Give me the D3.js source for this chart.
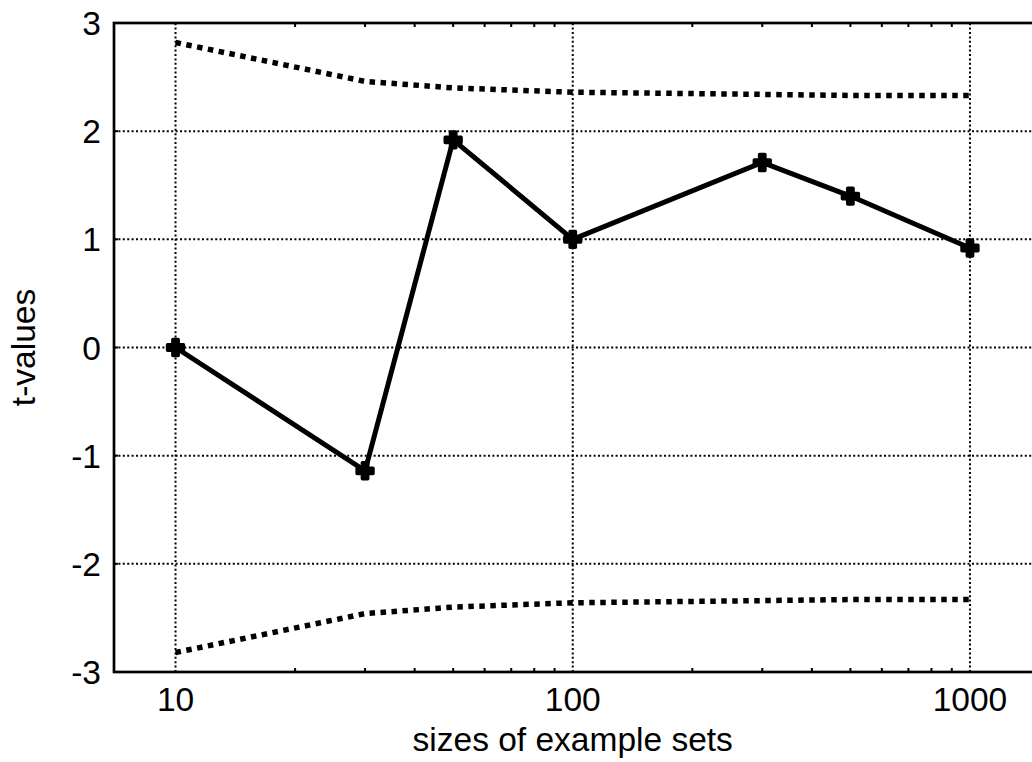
<!DOCTYPE html>
<head>
  <title>t-values by size of example sets</title>
  <style>
    body { margin: 0; background: #fff; }
    text { font-family: "Liberation Sans", Arial, Helvetica, sans-serif; font-size: 33.5px; fill: #000; }
  </style>
</head>
<body>
  <script src="https://cdn.jsdelivr.net/npm/d3@7"></script>
  <script>
    // data
    var sizes = [10, 30, 50, 100, 300, 500, 1000];
    var tValues = [0.0, -1.14, 1.92, 1.0, 1.71, 1.40, 0.92];
    var upperBound = [2.82, 2.46, 2.40, 2.36, 2.34, 2.33, 2.33];
    var lowerBound = [-2.82, -2.46, -2.40, -2.36, -2.34, -2.33, -2.33];
    var yTicks = [-3, -2, -1, 0, 1, 2, 3];
    var xTicks = [10, 100, 1000];

    var margin = {top: 23, left: 114},
        width = 1032,
        height = 762;

    var x = d3.scaleLog()
              .domain([7, 1500])
              .range([margin.left, 176 + 397 * Math.log10(150)]);
    var y = d3.scaleLinear()
              .domain([-3, 3])
              .range([672, margin.top]);

    var svg = d3.select("body").append("svg")
        .attr("width", width)
        .attr("height", height);

    var x0 = x.range()[0], x1 = x.range()[1];

    // grid lines
    svg.append("g").selectAll("line")
        .data(yTicks.filter(function(d) { return d > -3 && d < 3; }))
      .enter().append("line")
        .attr("x1", x0).attr("x2", x1)
        .attr("y1", function(d) { return y(d); })
        .attr("y2", function(d) { return y(d); })
        .attr("stroke", "#000")
        .attr("stroke-width", 2)
        .attr("stroke-dasharray", "2,2.4");

    svg.append("g").selectAll("line")
        .data(xTicks)
      .enter().append("line")
        .attr("x1", function(d) { return x(d); })
        .attr("x2", function(d) { return x(d); })
        .attr("y1", y(-3)).attr("y2", y(3))
        .attr("stroke", "#000")
        .attr("stroke-width", 2)
        .attr("stroke-dasharray", "2,2.4");

    // minor ticks on log axis, top and bottom
    var minor = [];
    [10, 100].forEach(function(dec) {
      for (var k = 2; k <= 9; k++) minor.push(dec * k);
    });
    minor = minor.filter(function(d) { return d > 7 && d < 1500; });
    [y(-3), y(3)].forEach(function(yy, i) {
      svg.append("g").selectAll("line")
          .data(minor)
        .enter().append("line")
          .attr("x1", function(d) { return x(d); })
          .attr("x2", function(d) { return x(d); })
          .attr("y1", yy)
          .attr("y2", i === 0 ? yy - 4 : yy + 4)
          .attr("stroke", "#000")
          .attr("stroke-width", 2);
    });

    // small y ticks on the left
    svg.append("g").selectAll("line")
        .data(yTicks)
      .enter().append("line")
        .attr("x1", x0).attr("x2", x0 + 4)
        .attr("y1", function(d) { return y(d); })
        .attr("y2", function(d) { return y(d); })
        .attr("stroke", "#000")
        .attr("stroke-width", 2);

    // frame
    svg.append("rect")
        .attr("x", x0).attr("y", y(3))
        .attr("width", x1 - x0).attr("height", y(-3) - y(3))
        .attr("fill", "none")
        .attr("stroke", "#000")
        .attr("stroke-width", 2.7);

    // tick labels
    svg.append("g").selectAll("text")
        .data(yTicks)
      .enter().append("text")
        .attr("x", 101)
        .attr("y", function(d) { return y(d) + 12; })
        .attr("text-anchor", "end")
        .text(function(d) { return d; });

    svg.append("g").selectAll("text")
        .data(xTicks)
      .enter().append("text")
        .attr("x", function(d) { return x(d); })
        .attr("y", 711)
        .attr("text-anchor", "middle")
        .text(function(d) { return d; });

    // axis titles
    svg.append("text")
        .attr("x", x(100))
        .attr("y", 751)
        .attr("text-anchor", "middle")
        .text("sizes of example sets");

    svg.append("text")
        .attr("transform", "translate(35," + y(0) + ") rotate(-90)")
        .attr("text-anchor", "middle")
        .text("t-values");

    // bound lines
    var boundLine = d3.line()
        .x(function(d, i) { return x(sizes[i]); })
        .y(function(d) { return y(d); });

    [upperBound, lowerBound].forEach(function(b) {
      svg.append("path")
          .datum(b)
          .attr("d", boundLine)
          .attr("fill", "none")
          .attr("stroke", "#000")
          .attr("stroke-width", 5.5)
          .attr("stroke-dasharray", "5.5,5.5");
    });

    // t-value line
    svg.append("path")
        .datum(tValues)
        .attr("d", boundLine)
        .attr("fill", "none")
        .attr("stroke", "#000")
        .attr("stroke-width", 5)
        .attr("stroke-linejoin", "miter");

    svg.append("g").selectAll("path")
        .data(tValues)
      .enter().append("path")
        .attr("transform", function(d, i) { return "translate(" + x(sizes[i]) + "," + y(d) + ")"; })
        .attr("d", d3.symbol().type(d3.symbolCross).size(140))
        .attr("fill", "#000")
        .attr("stroke", "#000")
        .attr("stroke-width", 3.5)
        .attr("stroke-linejoin", "round");
  </script>
</body>
